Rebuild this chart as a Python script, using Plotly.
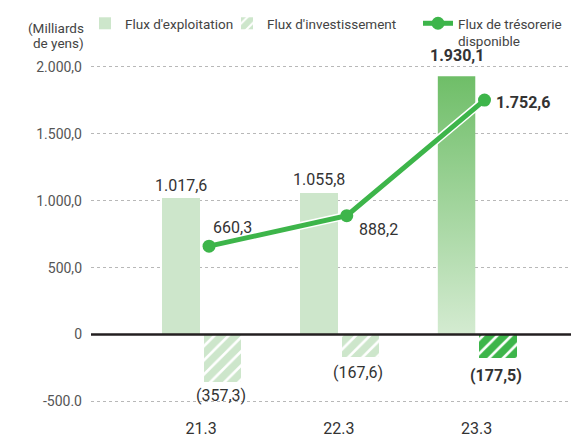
import plotly.graph_objects as go

# Fiscal years and cash-flow figures (billions of yen)
years = ["21.3", "22.3", "23.3"]
operating_cf = [1017.6, 1055.8, 1930.1]
investing_cf = [-357.3, -167.6, -177.5]
free_cf = [660.3, 888.2, 1752.6]

y_ticks = [-500, 0, 500, 1000, 1500, 2000]
y_tick_text = ["-500.0", "0", "500,0", "1.000,0", "1.500,0", "2.000,0"]

FONT = "Roboto, 'Noto Sans', sans-serif"
LIGHT = "#cde6cb"
GREEN = "#3db54a"
TEXT = "#333333"

W, H = 578, 437
PLOT_L, PLOT_R, PLOT_T, PLOT_B = 91, 571, 56, 417

# bar geometry inside each fiscal-year group
OP_OFF, INV_OFF, LINE_OFF = -0.145, 0.156, 0.058
BAR_W = 0.272


def fmt(v):
    s = f"{abs(v):,.1f}".replace(",", " ").replace(".", ",").replace(" ", ".")
    return f"({s})" if v < 0 else s


def label(i, v):
    return f"<b>{fmt(v)}</b>" if i == latest else fmt(v)


idx = list(range(len(years)))
latest = len(years) - 1
label_font = dict(size=16, color=TEXT, family=FONT)

fig = go.Figure()

# Operating cash flow bars (latest year is redrawn with a gradient fill)
op_x = [i + OP_OFF for i in idx]
fig.add_trace(go.Bar(
    x=op_x, y=operating_cf, width=BAR_W,
    name="Flux d'exploitation", legend="legend",
    marker=dict(color=[LIGHT if i != latest else "rgba(0,0,0,0)" for i in idx], line_width=0),
))

# Investing cash flow bars: a dense "/" pattern leaves thin white gaps as hatching
inv_x = [i + INV_OFF for i in idx]
inv_colors = [LIGHT if i != latest else GREEN for i in idx]
fig.add_trace(go.Bar(
    x=inv_x, y=investing_cf, width=BAR_W,
    name="Flux d'investissement", legend="legend2",
    marker=dict(
        color=inv_colors, line_width=0,
        pattern=dict(shape="/", size=10, solidity=0.74, fillmode="replace"),
    ),
))

# Gradient-filled operating bar for the latest year
xc = op_x[latest]
x0, x1 = xc - BAR_W / 2, xc + BAR_W / 2
fig.add_trace(go.Scatter(
    x=[x0, x1, x1, x0, x0], y=[0, 0, operating_cf[latest], operating_cf[latest], 0],
    mode="lines", line=dict(width=0), fill="toself",
    fillgradient=dict(type="vertical", colorscale=[[0, "#d4ebd1"], [1, "#6fbe68"]]),
    showlegend=False, hoverinfo="skip",
))

# Free cash flow line: white halo then green line with markers
line_x = [i + LINE_OFF for i in idx]
fig.add_trace(go.Scatter(
    x=line_x, y=free_cf, mode="lines", line=dict(color="white", width=8),
    showlegend=False, hoverinfo="skip",
))
fig.add_trace(go.Scatter(
    x=line_x, y=free_cf, mode="lines+markers",
    name="Flux de trésorerie<br>disponible", legend="legend3",
    line=dict(color=GREEN, width=5),
    marker=dict(color=GREEN, size=13),
))

# Value labels: operating above bars, investing below bars
op_shift = [13, 14, 21]
for i, v in enumerate(operating_cf):
    fig.add_annotation(x=op_x[i], y=v, xref="x", yref="y", showarrow=False,
                       text=label(i, v), xanchor="center", yanchor="middle",
                       yshift=op_shift[i], font=label_font)

inv_shift = [-13, -16, -17]
for i, v in enumerate(investing_cf):
    fig.add_annotation(x=inv_x[i], y=v, xref="x", yref="y", showarrow=False,
                       text=label(i, v), xanchor="center", yanchor="middle",
                       xshift=-2, yshift=inv_shift[i], font=label_font)

# Free cash flow labels
fcf_pos = [(2, 19), (10, -14), (9, -2)]
for i, v in enumerate(free_cf):
    dx, dy = fcf_pos[i]
    fig.add_annotation(x=line_x[i], y=v, xref="x", yref="y", showarrow=False,
                       text=label(i, v), xanchor="left", yanchor="middle",
                       xshift=dx, yshift=dy, font=label_font)

# Unit label, two right-aligned lines
pw, ph = PLOT_R - PLOT_L, PLOT_B - PLOT_T
for txt, yc in [("(Milliards", 28), ("de yens)", 43)]:
    fig.add_annotation(
        x=(86 - PLOT_L) / pw, y=1 + (PLOT_T - yc) / ph, xref="paper", yref="paper",
        showarrow=False, text=txt, xanchor="right", yanchor="middle",
        font=dict(size=13.5, color="#444444", family=FONT),
    )

legend_style = dict(
    orientation="h", xref="container", yref="container",
    y=1 - 8 / H, xanchor="left", yanchor="top",
    font=dict(size=13.5, color="#444444", family=FONT),
    bgcolor="rgba(0,0,0,0)", valign="top", borderwidth=0,
)

fig.update_layout(
    width=W, height=H,
    margin=dict(l=PLOT_L, r=W - PLOT_R, t=PLOT_T, b=H - PLOT_B, autoexpand=False),
    paper_bgcolor="white", plot_bgcolor="white",
    barmode="overlay", bargap=0,
    font=dict(family=FONT, color=TEXT),
    showlegend=True,
    legend=dict(legend_style, x=85 / W),
    legend2=dict(legend_style, x=227 / W),
    legend3=dict(legend_style, x=418 / W),
    xaxis=dict(
        range=[-0.799, 2.686], tickvals=idx, ticktext=years,
        showgrid=False, zeroline=False, showline=False, ticks="",
        tickfont=dict(size=16, color=TEXT, family=FONT),
    ),
    yaxis=dict(
        range=[-617, 2082], tickvals=y_ticks, ticktext=y_tick_text,
        showgrid=True, gridcolor="#b8b8b8", griddash="3px,3px", gridwidth=1,
        zeroline=False, showline=False, ticks="", ticklabelstandoff=8,
        tickfont=dict(size=14, color="#555555", family=FONT),
    ),
    shapes=[dict(type="line", xref="paper", yref="y", x0=0, x1=1, y0=0, y1=0,
                 line=dict(color="#231f20", width=2.5), layer="above")],
)

fig.write_html("out.html")
